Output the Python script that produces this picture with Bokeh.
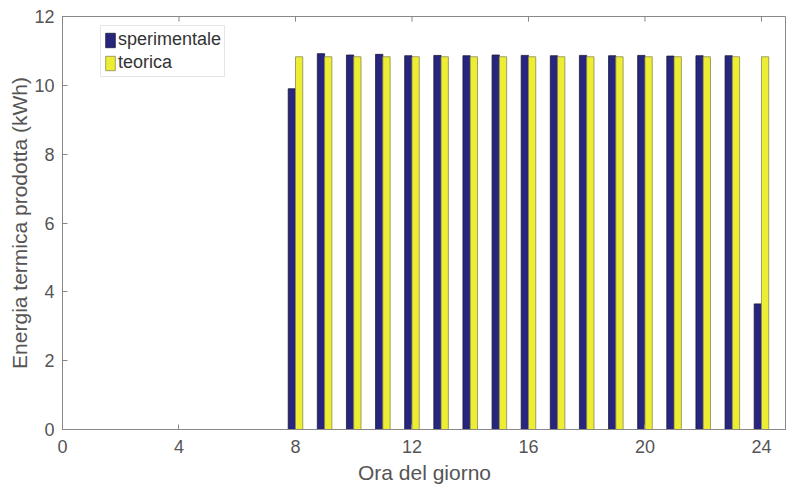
from bokeh.plotting import figure
from bokeh.models import ColumnDataSource, Range1d, FixedTicker, Legend, LegendItem
from bokeh.transform import dodge
from bokeh.embed import file_html
from bokeh.resources import INLINE

hours = [8, 9, 10, 11, 12, 13, 14, 15, 16, 17, 18, 19, 20, 21, 22, 23, 24]
sperimentale = [9.90, 10.92, 10.88, 10.90, 10.86, 10.87, 10.86, 10.88, 10.87,
                10.86, 10.87, 10.86, 10.87, 10.85, 10.86, 10.86, 3.65]
teorica = [10.83, 10.83, 10.83, 10.83, 10.83, 10.83, 10.83, 10.83, 10.83,
           10.83, 10.83, 10.83, 10.83, 10.83, 10.83, 10.83, 10.83]
x_ticks = [0, 4, 8, 12, 16, 20, 24]
y_ticks = [0, 2, 4, 6, 8, 10, 12]
y_max = 12

src = ColumnDataSource(dict(hour=hours, sper=sperimentale, teo=teorica))

FONT = "Liberation Sans"
GRAY = "#555555"

p = figure(width=786, height=486, output_backend="svg", toolbar_location=None,
           x_range=Range1d(0, 24.86), y_range=Range1d(0, y_max),
           min_border_left=62, min_border_right=0, min_border_top=16, min_border_bottom=56)
p.grid.visible = False
p.background_fill_color = "white"
p.border_fill_color = "white"
p.outline_line_color = "#888888"
p.outline_line_width = 1

r1 = p.vbar(x=dodge('hour', -0.125, range=p.x_range), top='sper', width=0.25, source=src,
            fill_color="#27257d", line_color="#1a1a3a", line_width=0.8)
r2 = p.vbar(x=dodge('hour', 0.125, range=p.x_range), top='teo', width=0.25, source=src,
            fill_color="#eded33", line_color="#8a8a50", line_width=0.8)

# inward tick marks on the top edge of the box (MATLAB style)
p.segment(x0=x_ticks, x1=x_ticks, y0=[y_max] * len(x_ticks),
          y1=[y_max - 0.15] * len(x_ticks), line_color="#888888", line_width=1)

for ax in (p.xaxis[0], p.yaxis[0]):
    ax.axis_line_color = "#888888"
    ax.major_tick_line_color = "#888888"
    ax.major_tick_in = 5
    ax.major_tick_out = 0
    ax.minor_tick_line_color = None
    ax.major_label_text_font = FONT
    ax.major_label_text_font_size = "18px"
    ax.major_label_text_color = GRAY
    ax.axis_label_text_font = FONT
    ax.axis_label_text_font_style = "normal"
    ax.axis_label_text_color = GRAY
    ax.axis_label_text_font_size = "21px"

p.xaxis.ticker = FixedTicker(ticks=x_ticks)
p.yaxis.ticker = FixedTicker(ticks=y_ticks)
p.xaxis.axis_label = "Ora del giorno"
p.yaxis.axis_label = "Energia termica prodotta (kWh)"
p.xaxis.major_label_standoff = 10
p.yaxis.major_label_standoff = 8
p.xaxis.axis_label_standoff = 5
p.yaxis.axis_label_standoff = 0

legend = Legend(items=[LegendItem(label="sperimentale", renderers=[r1]),
                       LegendItem(label="teorica", renderers=[r2])],
                location=(38, 352))
legend.label_text_font = FONT
legend.label_text_font_size = "18px"
legend.label_text_color = "#333333"
legend.glyph_width = 12
legend.glyph_height = 18
legend.label_standoff = 2
legend.label_height = 20
legend.spacing = 2
legend.padding = 3
legend.margin = 0
legend.border_line_color = "#cccccc"
legend.background_fill_alpha = 1
p.add_layout(legend)

open("out.html", "w").write(file_html(p, INLINE))
